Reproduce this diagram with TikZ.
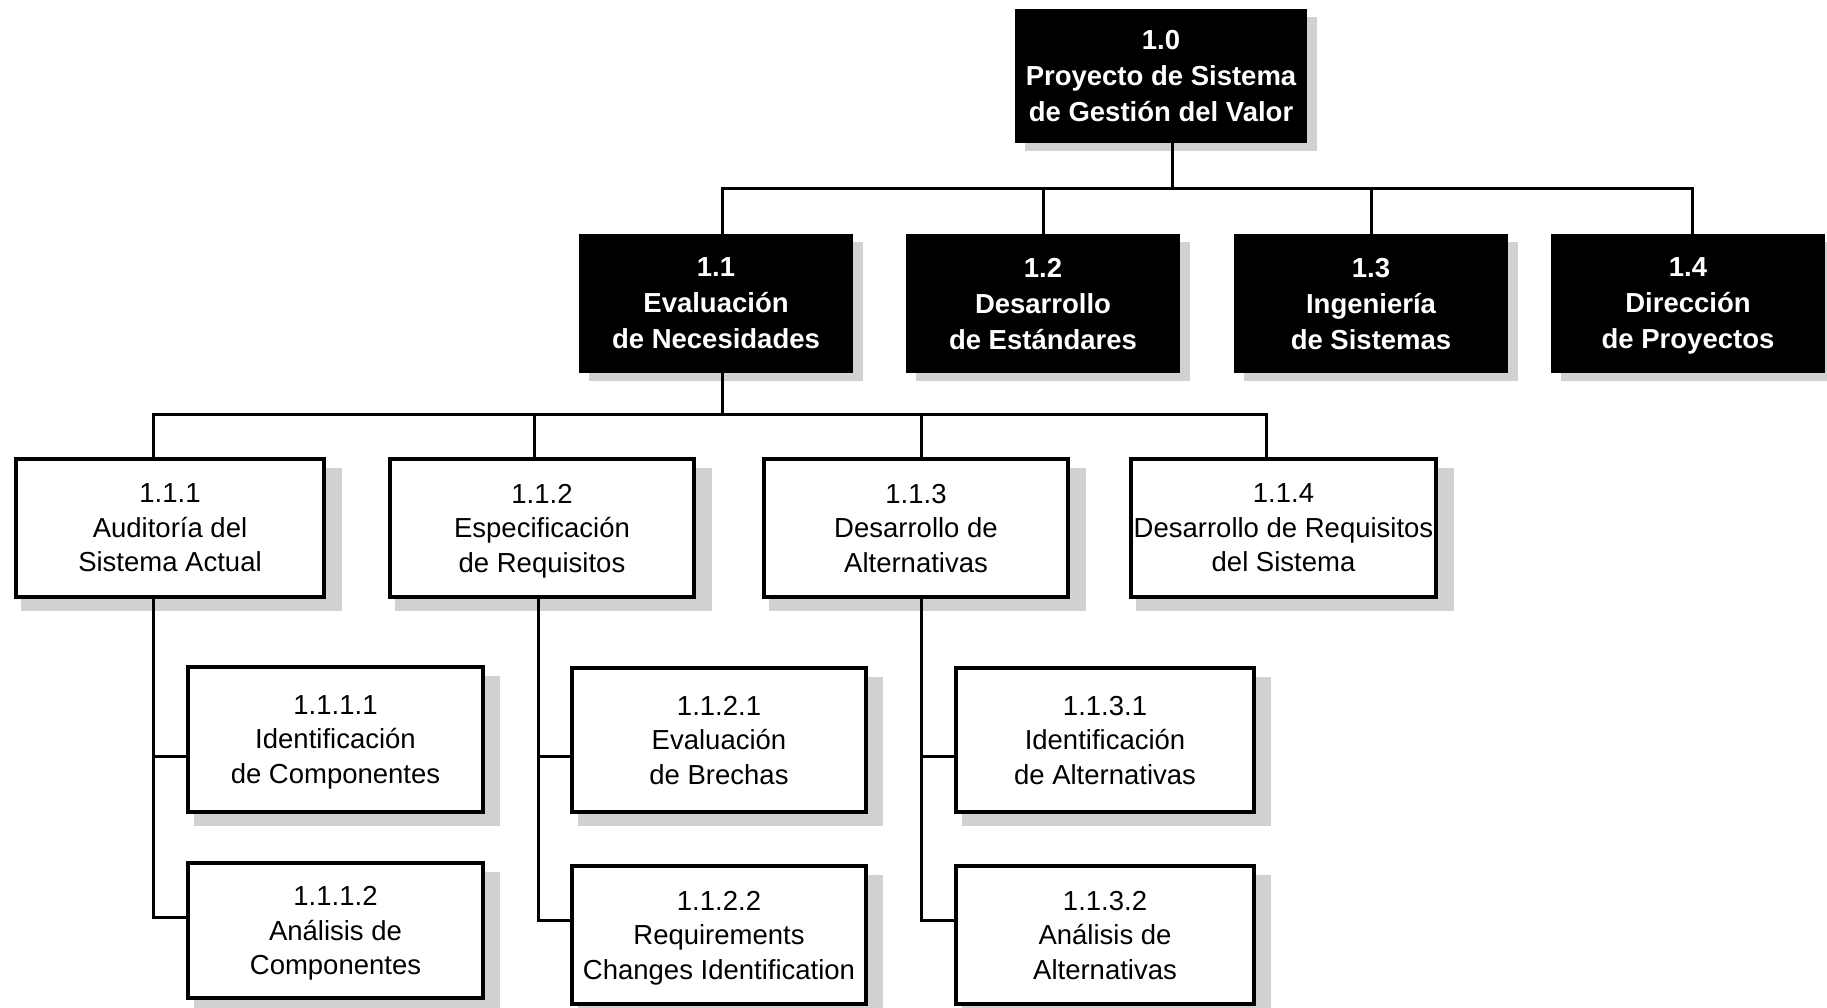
\documentclass[tikz,border=0pt]{standalone}
\usepackage{fontspec}
\setmainfont{Liberation Sans}
\usetikzlibrary{shadows}
\definecolor{shadowgray}{RGB}{208,209,211}

\begin{document}
\begin{tikzpicture}[x=1pt,y=-1pt,
	blackbox/.style={fill=black,text=white,align=center,inner sep=0pt,text depth=0pt,
		font=\fontsize{27.5}{36}\selectfont\bfseries,
		drop shadow={shadow xshift=10pt,shadow yshift=-8pt,fill=shadowgray,opacity=1}},
	whitebox/.style={draw=black,line width=4pt,fill=white,align=center,inner sep=0pt,text depth=0pt,
		font=\fontsize{27.5}{34.5}\selectfont,
		drop shadow={shadow xshift=11pt,shadow yshift=-11pt,shadow scale=1.04,fill=shadowgray,opacity=1}},
	link/.style={line width=3pt}]
	    \useasboundingbox (0,0) rectangle (1827,1008);
	    \node[blackbox,minimum width=292,minimum height=134] (n10) at (1161,76) {1.0\\Proyecto de Sistema\\de Gestión del Valor};
	    \node[blackbox,minimum width=274,minimum height=139] (n11) at (716,303.5) {1.1\\Evaluación\\de Necesidades};
	    \node[blackbox,minimum width=274,minimum height=139] (n12) at (1043,303.5) {1.2\\Desarrollo\\de Estándares};
	    \node[blackbox,minimum width=274,minimum height=139] (n13) at (1371,303.5) {1.3\\Ingeniería\\de Sistemas};
	    \node[blackbox,minimum width=274,minimum height=139] (n14) at (1688,303.5) {1.4\\Dirección\\de Proyectos};
	    \node[whitebox,minimum width=308,minimum height=138] (n111) at (170,528) {1.1.1\\Auditoría del\\Sistema Actual};
	    \node[whitebox,minimum width=304,minimum height=138] (n112) at (542,528) {1.1.2\\Especificación\\de Requisitos};
	    \node[whitebox,minimum width=304,minimum height=138] (n113) at (916,528) {1.1.3\\Desarrollo de\\Alternativas};
	    \node[whitebox,minimum width=305,minimum height=138] (n114) at (1283.5,528) {1.1.4\\Desarrollo de Requisitos\\del Sistema};
	    \node[whitebox,minimum width=295,minimum height=145] (n1111) at (335.5,739.5) {1.1.1.1\\Identificación\\de Componentes};
	    \node[whitebox,minimum width=295,minimum height=135] (n1112) at (335.5,930.5) {1.1.1.2\\Análisis de\\Componentes};
	    \node[whitebox,minimum width=294,minimum height=144] (n1121) at (719,740) {1.1.2.1\\Evaluación\\de Brechas};
	    \node[whitebox,minimum width=294,minimum height=138] (n1122) at (719,935) {1.1.2.2\\Requirements\\Changes Identification};
	    \node[whitebox,minimum width=298,minimum height=144] (n1131) at (1105,740) {1.1.3.1\\Identificación\\de Alternativas};
	    \node[whitebox,minimum width=298,minimum height=138] (n1132) at (1105,935) {1.1.3.2\\Análisis de\\Alternativas};
	    \draw[link] ([xshift=11]n10.south) -- ++(0,46);
	    \draw[link] ([xshift=6]n11.north) -- ++(0,-45) -| ([xshift=4]n14.north);
	    \draw[link] (n12.north) -- ++(0,-45);
	    \draw[link] (n13.north) -- ++(0,-45);
	    \draw[link] ([xshift=6]n11.south) -- ++(0,43);
	    \draw[link] ([xshift=-17]n111.north) -- ++(0,-43) -| ([xshift=-17.5]n114.north);
	    \draw[link] ([xshift=-8]n112.north) -- ++(0,-43);
	    \draw[link] ([xshift=5]n113.north) -- ++(0,-43);
	    \draw[link] ([xshift=-17]n111.south) |- ([yshift=-16.5]n1111.west);
	    \draw[link] ([xshift=-17]n111.south) |- ([yshift=13.5]n1112.west);
	    \draw[link] ([xshift=-4]n112.south) |- ([yshift=-16]n1121.west);
	    \draw[link] ([xshift=-4]n112.south) |- ([yshift=15]n1122.west);
	    \draw[link] ([xshift=5]n113.south) |- ([yshift=-16]n1131.west);
	    \draw[link] ([xshift=5]n113.south) |- ([yshift=15]n1132.west);
	\end{tikzpicture}
\end{document}
